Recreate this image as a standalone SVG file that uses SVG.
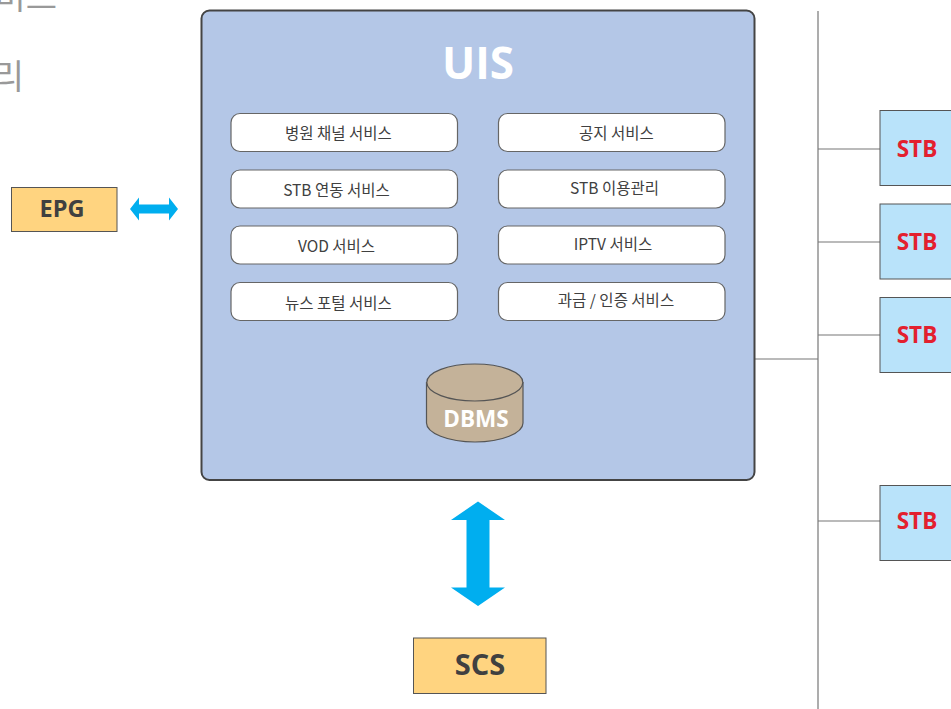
<svg xmlns="http://www.w3.org/2000/svg" width="951" height="709" viewBox="0 0 951 709">
<style>
.svc{fill:#fff;stroke:#666;stroke-width:1.2}
.st{font-family:"Noto Sans CJK KR","Noto Sans",sans-serif;font-size:15.500px;fill:#404040;text-anchor:middle}
.b{font-family:"Open Sans","Noto Sans",sans-serif;font-weight:700;text-anchor:middle}
.stb{fill:#b9e3fa;stroke:#555;stroke-width:1}
.stbt{font-size:22.500px;fill:#e3202e}
.yl{fill:#ffd480;stroke:#555;stroke-width:1}
.ln{stroke:#777;stroke-width:1.2;fill:none}
.bg{font-family:"Noto Sans CJK KR",sans-serif;font-size:34px;fill:#999;text-anchor:end}
</style>
<rect width="951" height="709" fill="#fff"/>
<text class="bg" x="57" y="9">서비스</text>
<text class="bg" x="24" y="89">관리</text>
<g id="connectors">
<path class="ln" d="M818 11V709M755 359H818M818 149H880M818 242H880M818 335H880M818 521H880"/>
<path id="arrow-epg" fill="#00aeef" d="M130 209L139 197.500V204.500H169V197.500L178 209L169 220.500V213.500H139V220.500Z"/>
<path id="arrow-scs" fill="#00aeef" d="M478 501.500L505 520H489.500V587.500H505L478 606L451 587.500H466.500V520H451Z"/>
</g>
<g id="uis">
<rect x="201.500" y="10.500" width="553" height="469.500" rx="8" fill="#b4c7e7" stroke="#444" stroke-width="2"/>
<text class="b" x="478" y="79" font-size="44" fill="#fff">UIS</text>
</g>
<g id="svc1"><rect class="svc" x="231" y="113.500" width="226.500" height="38" rx="9"/><text class="st" x="338.500" y="138.500">병원 채널 서비스</text></g>
<g id="svc2"><rect class="svc" x="231" y="170" width="226.500" height="38" rx="9"/><text class="st" x="336.500" y="195.500">STB 연동 서비스</text></g>
<g id="svc3"><rect class="svc" x="231" y="226" width="226.500" height="38" rx="9"/><text class="st" x="336.500" y="251.500">VOD 서비스</text></g>
<g id="svc4"><rect class="svc" x="231" y="282.500" width="226.500" height="38" rx="9"/><text class="st" x="338.500" y="308.500">뉴스 포털 서비스</text></g>
<g id="svc5"><rect class="svc" x="498.500" y="113.500" width="226.500" height="38" rx="9"/><text class="st" x="616.500" y="138.500">공지 서비스</text></g>
<g id="svc6"><rect class="svc" x="498.500" y="170" width="226.500" height="38" rx="9"/><text class="st" x="614.500" y="193.500">STB 이용관리</text></g>
<g id="svc7"><rect class="svc" x="498.500" y="226" width="226.500" height="38" rx="9"/><text class="st" x="613" y="249.500">IPTV 서비스</text></g>
<g id="svc8"><rect class="svc" x="498.500" y="282.500" width="226.500" height="38" rx="9"/><text class="st" x="616" y="305.500">과금 / 인증 서비스</text></g>
<g id="dbms">
<path d="M426.500 382.500V423C426.500 433 448 442 475 442S523 433 523 423V382.500Z" fill="#c4b299" stroke="#555" stroke-width="1.200"/>
<ellipse cx="474.800" cy="382.500" rx="48" ry="18.500" fill="#c4b299" stroke="#555" stroke-width="1.200"/>
<text class="b" x="476" y="426.500" font-size="22.500" fill="#fff">DBMS</text>
</g>
<g id="epg"><rect class="yl" x="11.500" y="187.500" width="105.500" height="44"/><text class="b" x="62" y="216.500" font-size="23.500" fill="#404040">EPG</text></g>
<g id="scs"><rect class="yl" x="413.500" y="638" width="132.500" height="55.500"/><text class="b" x="480" y="674.500" font-size="29" fill="#404040">SCS</text></g>
<g id="stb1"><rect class="stb" x="880" y="110.500" width="75" height="75"/><text class="b stbt" x="917" y="156.500">STB</text></g>
<g id="stb2"><rect class="stb" x="880" y="204" width="75" height="75"/><text class="b stbt" x="917" y="250">STB</text></g>
<g id="stb3"><rect class="stb" x="880" y="297.500" width="75" height="75"/><text class="b stbt" x="917" y="342.500">STB</text></g>
<g id="stb4"><rect class="stb" x="880" y="485.500" width="75" height="75"/><text class="b stbt" x="917" y="529">STB</text></g>
</svg>
